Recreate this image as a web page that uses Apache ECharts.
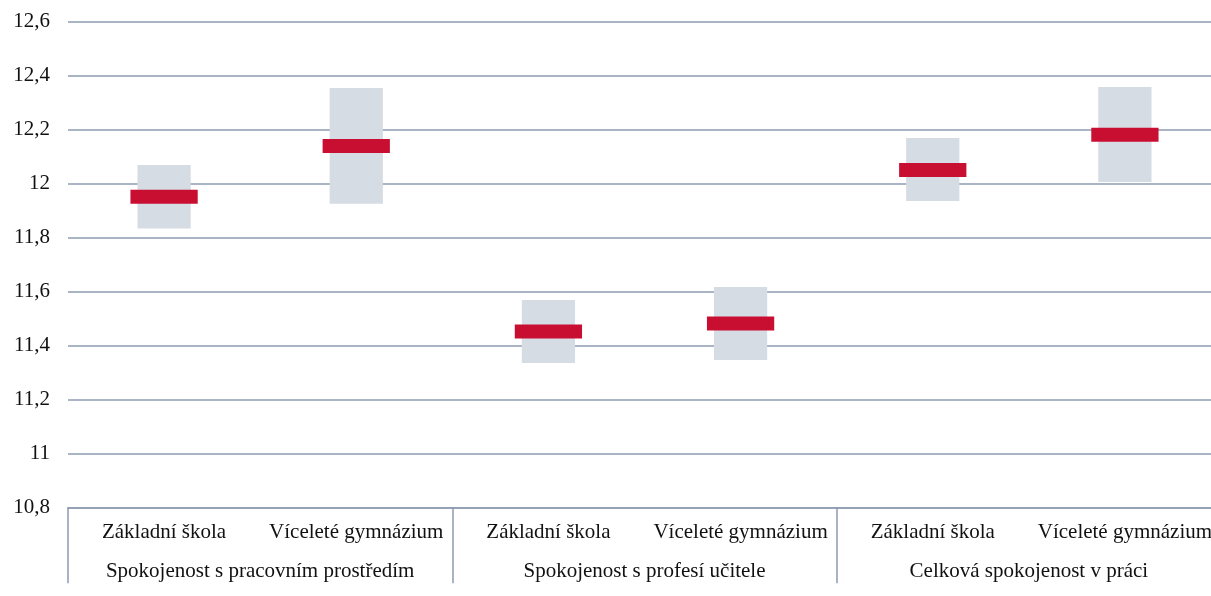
<!DOCTYPE html>
<html>
<head>
<meta charset="utf-8">
<script src="https://cdn.jsdelivr.net/npm/echarts@6/dist/echarts.min.js"></script>
<style>
html,body{margin:0;padding:0;background:#fff;}
#chart{width:1211px;height:596px;}
</style>
</head>
<body>
<div id="chart"></div>
<script>
const categories = ['Základní škola', 'Víceleté gymnázium', 'Základní škola', 'Víceleté gymnázium', 'Základní škola', 'Víceleté gymnázium'];
const groups = ['Spokojenost s pracovním prostředím', 'Spokojenost s profesí učitele', 'Celková spokojenost v práci'];
const lowValues = [11.833, 11.925, 11.335, 11.346, 11.935, 12.006];
const highValues = [12.069, 12.354, 11.568, 11.617, 12.169, 12.358];
const meanValues = [11.951, 12.139, 11.452, 11.481, 12.050, 12.181];

const gridColor = '#8d9bb2';
const font = 'Liberation Serif';

const rangeData = categories.map((c, i) => [i, lowValues[i], highValues[i]]);
const meanData = categories.map((c, i) => [i, meanValues[i]]);

const chart = echarts.init(document.getElementById('chart'));
chart.setOption({
  animation: false,
  backgroundColor: '#fff',
  grid: { left: 68, width: 1153, top: 21.7, bottom: 88.7, containLabel: false, outerBoundsMode: 'none' },
  xAxis: [
    {
      type: 'category',
      data: categories,
      position: 'bottom',
      axisLine: { show: true, lineStyle: { color: gridColor, width: 1.5 } },
      axisTick: { show: false },
      axisLabel: { interval: 0, margin: 15, fontFamily: font, fontSize: 21, color: '#111' }
    },
    {
      type: 'category',
      data: groups,
      position: 'bottom',
      axisLine: { show: false },
      axisTick: { show: true, length: 76, interval: 0, lineStyle: { color: gridColor, width: 1.5 } },
      axisLabel: { interval: 0, margin: 54, fontFamily: font, fontSize: 21, color: '#111' }
    }
  ],
  yAxis: {
    type: 'value',
    min: 10.8,
    max: 12.6,
    interval: 0.2,
    axisLine: { show: false },
    axisTick: { show: false },
    splitLine: { show: true, lineStyle: { color: gridColor, width: 1.5 } },
    axisLabel: {
      margin: 18,
      fontFamily: font,
      fontSize: 21,
      color: '#111',
      formatter: v => String(Math.round(v * 10) / 10).replace('.', ',')
    }
  },
  series: [
    {
      type: 'custom',
      xAxisIndex: 0,
      data: rangeData,
      encode: { x: 0, y: [1, 2] },
      renderItem: function (params, api) {
        const x = api.value(0);
        const p1 = api.coord([x, api.value(1)]);
        const p2 = api.coord([x, api.value(2)]);
        const w = api.size([1, 0])[0] * 0.277;
        return {
          type: 'rect',
          shape: { x: p1[0] - w / 2, y: p2[1], width: w, height: p1[1] - p2[1] },
          style: { fill: '#d6dce4' }
        };
      }
    },
    {
      type: 'custom',
      xAxisIndex: 0,
      data: meanData,
      encode: { x: 0, y: 1 },
      renderItem: function (params, api) {
        const x = api.value(0);
        const p = api.coord([x, api.value(1)]);
        const w = api.size([1, 0])[0] * 0.35;
        const h = 14;
        return {
          type: 'rect',
          shape: { x: p[0] - w / 2, y: p[1] - h / 2, width: w, height: h },
          style: { fill: '#c80f32' }
        };
      }
    }
  ]
});
</script>
</body>
</html>
